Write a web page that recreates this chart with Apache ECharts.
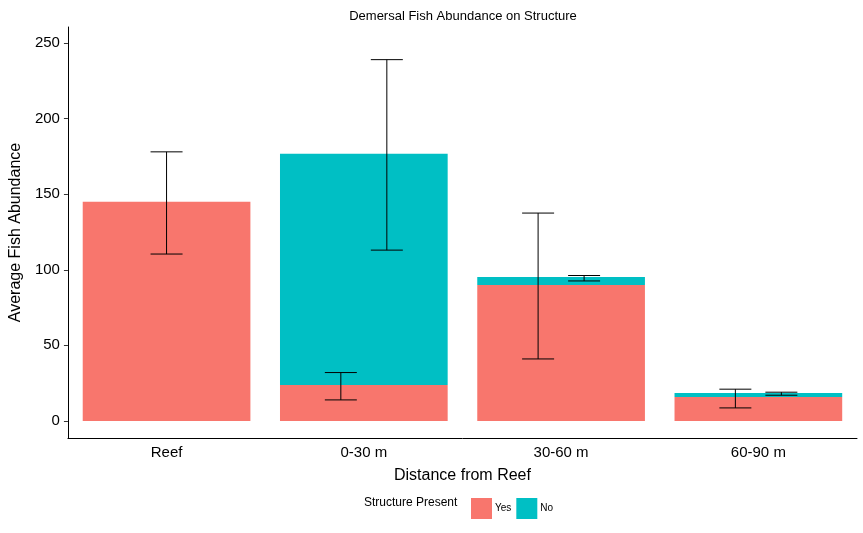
<!DOCTYPE html>
<html>
<head>
<meta charset="utf-8">
<script src="https://cdn.jsdelivr.net/npm/echarts@6/dist/echarts.min.js"></script>
<style>html,body{margin:0;padding:0;background:#fff}#chart{width:863px;height:533px}</style>
</head>
<body>
<div id="chart"></div>
<script>
// Chart data
const categories = ['Reef', '0-30 m', '30-60 m', '60-90 m'];
const yesValues = [145, 23.8, 90, 15.9];
const noValues = [0, 153, 5.2, 2.6];
const yesLow = [110.4, 13.9, 41, 8.6];
const yesHigh = [178, 32, 137.5, 21];
const noLow = [null, 113, 92.6, 17];
const noHigh = [null, 239, 96.2, 19];
const yTicks = [0, 50, 100, 150, 200, 250];

const FONT = 'Liberation Sans, Arial, sans-serif';
const chart = echarts.init(document.getElementById('chart'));

// Build error bar rows: [catIndex, low, high, group]
const errRows = [];
categories.forEach((c, i) => {
  const single = noLow[i] === null;
  errRows.push([i, yesLow[i], yesHigh[i], single ? 0 : -1]);
  if (!single) errRows.push([i, noLow[i], noHigh[i], 1]);
});

const renderErr = (params, api) => {
  const i = api.value(0);
  const lo = api.coord([i, api.value(1)]);
  const hi = api.coord([i, api.value(2)]);
  const x = lo[0] + api.value(3) * 23;
  const cap = 16;
  const style = { stroke: '#000', lineWidth: 1 };
  return {
    type: 'group',
    children: [
      { type: 'line', shape: { x1: x, y1: lo[1], x2: x, y2: hi[1] }, style },
      { type: 'line', shape: { x1: x - cap, y1: lo[1], x2: x + cap, y2: lo[1] }, style },
      { type: 'line', shape: { x1: x - cap, y1: hi[1], x2: x + cap, y2: hi[1] }, style }
    ]
  };
};

const option = {
  animation: false,
  textStyle: { fontFamily: FONT },
  title: {
    text: 'Demersal Fish Abundance on Structure',
    left: 458, top: 5, textAlign: 'center',
    textStyle: { fontSize: 13, fontWeight: 'normal', color: '#000', fontFamily: FONT }
  },
  grid: { left: 59, right: 6, top: 27, bottom: 95 },
  legend: {
    data: ['Yes', 'No'],
    icon: 'rect',
    left: 466, top: 493,
    itemWidth: 21, itemHeight: 21, itemGap: 5,
    textStyle: { fontSize: 10, color: '#000', padding: [0, 0, 0, -2] }
  },
  graphic: [
    { type: 'text', left: 364, top: 497, style: { text: 'Structure Present', fontSize: 12, fill: '#000', fontFamily: FONT } }
  ],
  xAxis: {
    type: 'category',
    data: categories,
    name: 'Distance from Reef',
    nameLocation: 'middle', nameGap: 30,
    nameTextStyle: { fontSize: 16, color: '#000' },
    axisLine: { onZero: false, lineStyle: { color: '#000' } },
    axisTick: { alignWithLabel: true, length: 4, lineStyle: { color: '#333' } },
    axisLabel: { fontSize: 15, color: '#000', margin: 7 }
  },
  yAxis: {
    type: 'value',
    min: -11.3, max: 260.6,
    name: 'Average Fish Abundance',
    nameLocation: 'middle', nameGap: 37,
    nameTextStyle: { fontSize: 16, color: '#000' },
    axisLine: { show: true, lineStyle: { color: '#000' } },
    axisTick: { show: true, length: 4, customValues: yTicks, lineStyle: { color: '#333' } },
    axisLabel: { fontSize: 15, color: '#000', customValues: yTicks, margin: 8 },
    splitLine: { show: false }
  },
  series: [
    { name: 'Yes', type: 'bar', stack: 'a', data: yesValues, barCategoryGap: '15%', itemStyle: { color: '#F8766D' } },
    { name: 'No', type: 'bar', stack: 'a', data: noValues, itemStyle: { color: '#00BFC4' } },
    { type: 'custom', renderItem: renderErr, data: errRows, z: 5, encode: { x: 0, y: [1, 2] } }
  ]
};
chart.setOption(option);
</script>
</body>
</html>
